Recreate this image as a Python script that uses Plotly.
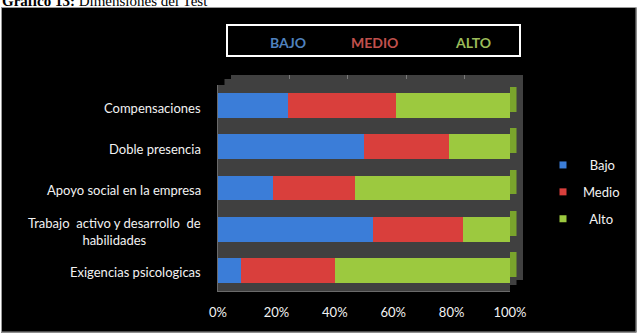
import plotly.graph_objects as go

# ---------------- data ----------------
categories = [
    "Exigencias psicologicas",
    "Trabajo\u00a0 activo y desarrollo\u00a0 de<br>habilidades",
    "Apoyo social en la empresa",
    "Doble presencia",
    "Compensaciones",
]
bajo = [8, 53, 19, 50, 24]
medio = [32, 31, 28, 29, 37]
alto = [60, 16, 53, 21, 39]
series_names = ["Bajo", "Medio", "Alto"]
x_tick_values = [0, 20, 40, 60, 80, 100]
x_tick_labels = ["0%", "20%", "40%", "60%", "80%", "100%"]
header_labels = ["BAJO", "MEDIO", "ALTO"]
title_bold = "Gráfico 13:"
title_rest = "Dimensiones del Test"

# ---------------- styles ----------------
front_colors = ["#3b7dd8", "#d93f3c", "#9cc93f"]
back_colors = ["#2c63b0", "#ad2f2c", "#7aa42c"]
header_colors = ["#4f81bd", "#c0504d", "#9bbb59"]
FONT = "Lato, Carlito, Calibri, sans-serif"

W, H = 644, 333
L, R, T, B = 216, 121, 75, 41
PW = W - L - R
PH = H - T - B


def px(X):
    return (X - L) / PW


def py(Y):
    return (H - B - Y) / PH


fig = go.Figure()

# back wall grid subplot (xy)
fig.add_trace(go.Scatter(x=[None], y=[None], xaxis="x", yaxis="y",
                         showlegend=False, hoverinfo="skip"))

series = [bajo, medio, alto]
# back faces of bars (x2y2)
for name, vals, col in zip(series_names, series, back_colors):
    fig.add_trace(go.Bar(y=categories, x=vals, orientation="h", name=name,
                         marker=dict(color=col, line=dict(width=0)),
                         xaxis="x2", yaxis="y2", showlegend=False, hoverinfo="skip"))
# front faces of bars (x3y3)
for name, vals, col in zip(series_names, series, front_colors):
    fig.add_trace(go.Bar(y=categories, x=vals, orientation="h", name=name,
                         marker=dict(color=col, line=dict(width=0)),
                         xaxis="x3", yaxis="y3", showlegend=False))
# legend entries
legend_names = {"Bajo": "\u00a0\u00a0Bajo", "Medio": "Medio", "Alto": "\u00a0\u00a0Alto"}
for name, col in zip(series_names, front_colors):
    fig.add_trace(go.Scatter(x=[None], y=[None], mode="markers",
                             name=legend_names[name], legendgroup=name,
                             marker=dict(symbol="square", size=7, color=col),
                             xaxis="x3", yaxis="y3"))

fig.update_layout(
    width=W, height=H,
    margin=dict(l=L, r=R, t=T, b=B, pad=0),
    paper_bgcolor="#000000",
    plot_bgcolor="#404040",
    barmode="stack",
    bargap=0.4,
    showlegend=True,
    legend=dict(x=px(543), y=py(150), xanchor="left", yanchor="top",
                font=dict(family=FONT, size=13, color="#f2f2f2"),
                bgcolor="rgba(0,0,0,0)", tracegroupgap=7, traceorder="grouped"),
    xaxis=dict(domain=[px(231), px(523)], range=[0, 100], dtick=20,
               showgrid=True, gridcolor="#7a7a7a", gridwidth=1, zeroline=False,
               showticklabels=False, ticks="", anchor="y", fixedrange=True),
    yaxis=dict(domain=[py(280), py(75)], range=[0, 1], showgrid=False,
               zeroline=False, showticklabels=False, ticks="", anchor="x", fixedrange=True),
    xaxis2=dict(domain=[px(224.5), px(516.5)], range=[0, 100], visible=False,
                anchor="y2", fixedrange=True),
    yaxis2=dict(domain=[py(285), py(79)], type="category", categoryorder="array",
                categoryarray=categories, visible=False, anchor="x2", fixedrange=True),
    xaxis3=dict(domain=[px(218), px(510)], range=[0, 100], tickvals=x_tick_values,
                ticktext=x_tick_labels, showgrid=False, zeroline=False, ticks="",
                ticklabelstandoff=9, tickfont=dict(family=FONT, size=13, color="#f2f2f2"),
                showline=True, linecolor="#6a6a6a", linewidth=1,
                anchor="y3", fixedrange=True),
    yaxis3=dict(domain=[py(291), py(85)], type="category", categoryorder="array",
                categoryarray=categories, showticklabels=False, showgrid=False,
                ticks="", showline=True, linecolor="#6a6a6a", linewidth=1,
                anchor="x3", fixedrange=True),
)

annotations = []
for cat in categories:
    annotations.append(dict(x=px(203), xref="paper", y=cat, yref="y3",
                            text=cat, showarrow=False, xanchor="right",
                            align="center", yshift=-2,
                            font=dict(family=FONT, size=13, color="#f2f2f2")))
for lab, xc, col in zip(header_labels, [288, 374, 473], header_colors):
    annotations.append(dict(x=px(xc), y=py(43), xref="paper", yref="paper",
                            text="<b>%s</b>" % lab, showarrow=False,
                            xanchor="center", yanchor="middle",
                            font=dict(family=FONT, size=14, color=col)))
annotations.append(dict(x=px(0), y=py(0.8), xref="paper", yref="paper",
                        text="<b>%s</b> %s" % (title_bold, title_rest),
                        showarrow=False, xanchor="left", yanchor="middle",
                        font=dict(family="Liberation Serif, Times New Roman, serif",
                                  size=15, color="#000000")))
fig.update_layout(annotations=annotations)

shapes = [
    # header box
    dict(type="rect", xref="paper", yref="paper", x0=px(227), x1=px(520),
         y0=py(56), y1=py(25), line=dict(color="#ffffff", width=2),
         fillcolor="rgba(0,0,0,0)", layer="above"),
    # white page around the black chart area
    dict(type="rect", xref="paper", yref="paper", x0=px(0), x1=px(W),
         y0=py(7.5), y1=py(0), line=dict(width=0), fillcolor="#ffffff", layer="above"),
    dict(type="rect", xref="paper", yref="paper", x0=px(636.5), x1=px(W),
         y0=py(H), y1=py(0), line=dict(width=0), fillcolor="#ffffff", layer="above"),
    dict(type="rect", xref="paper", yref="paper", x0=px(0), x1=px(1),
         y0=py(H), y1=py(0), line=dict(width=0), fillcolor="#ffffff", layer="above"),
    dict(type="rect", xref="paper", yref="paper", x0=px(0), x1=px(W),
         y0=py(H), y1=py(332.5), line=dict(width=0), fillcolor="#ffffff", layer="above"),
    # border of chart area
    dict(type="rect", xref="paper", yref="paper", x0=px(1.5), x1=px(636),
         y0=py(332), y1=py(7.5), line=dict(color="#9a9a9a", width=1),
         fillcolor="rgba(0,0,0,0)", layer="above"),
]
fig.update_layout(shapes=shapes)

fig.write_html("out.html")
